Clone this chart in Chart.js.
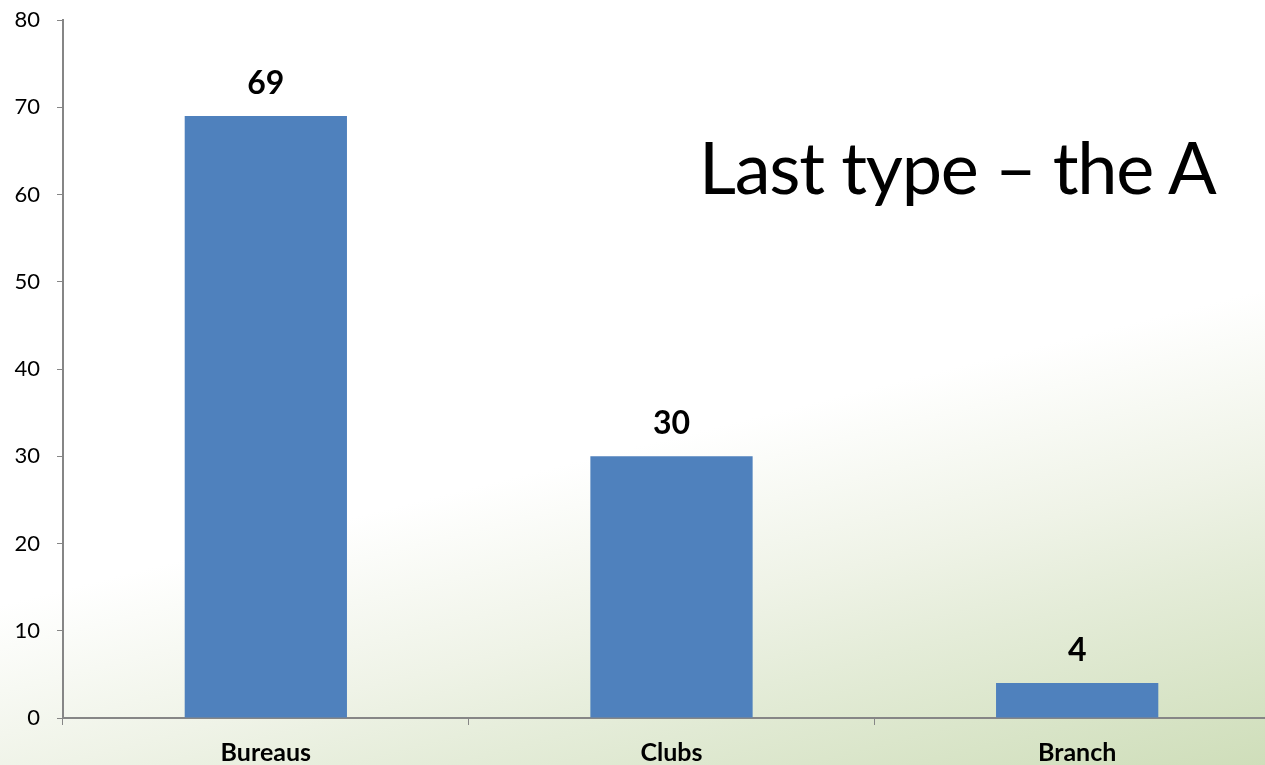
<!DOCTYPE html>
<html>
<head>
<meta charset="utf-8">
<script src="https://cdn.jsdelivr.net/npm/chart.js@4.4.0/dist/chart.umd.min.js"></script>
<style>
  html, body {
    margin: 0;
    padding: 0;
    width: 1265px;
    height: 765px;
    overflow: hidden;
  }
  body {
    position: relative;
    background: linear-gradient(166deg, #ffffff 56%, #eff3e7 72%, #e4ecd8 81%, #cfdeba 100%);
  }
  #wrap {
    position: absolute;
    left: 0;
    top: 0;
    width: 1283px;
    height: 765px;
  }
  #slideTitle {
    position: absolute;
    left: 699px;
    top: 130px;
    font-family: Lato, sans-serif;
    font-size: 72px;
    line-height: 72px;
    letter-spacing: -1.2px;
    color: #000;
    white-space: nowrap;
  }
</style>
</head>
<body>
<div id="wrap"><canvas id="resultsChart"></canvas></div>
<div id="slideTitle">Last type – the A</div>
<script>
const categories = ['Bureaus', 'Clubs', 'Branch'];
const counts = [69, 30, 4];
const yTicks = [0, 10, 20, 30, 40, 50, 60, 70, 80];

const axisGray = '#868686';

// value labels above each bar, placed from the bar elements
const barLabels = {
  id: 'barLabels',
  afterDatasetsDraw(chart) {
    const ctx = chart.ctx;
    const meta = chart.getDatasetMeta(0);
    ctx.save();
    ctx.font = 'bold 32px Lato, sans-serif';
    ctx.fillStyle = '#000';
    ctx.textAlign = 'center';
    ctx.textBaseline = 'alphabetic';
    meta.data.forEach((bar, i) => {
      ctx.fillText(String(counts[i]), bar.x, bar.y - 22);
    });
    ctx.restore();
  }
};

const chart = document.getElementById('resultsChart');
const ctx = chart.getContext('2d');
let resultsChart = new Chart(ctx, {
  type: 'bar',
  data: {
    labels: categories,
    datasets: [{
      label: 'Count',
      data: counts,
      backgroundColor: '#4f81bd',
      borderWidth: 0,
      barPercentage: 0.4,
      categoryPercentage: 1
    }]
  },
  options: {
    responsive: true,
    maintainAspectRatio: false,
    animation: false,
    layout: {
      padding: { top: 20, right: 3, left: 1, bottom: 0 }
    },
    plugins: {
      legend: { display: false },
      tooltip: { enabled: false }
    },
    scales: {
      x: {
        offset: true,
        grid: {
          offset: true,
          drawOnChartArea: false,
          drawTicks: true,
          tickLength: 7,
          color: axisGray
        },
        border: { color: axisGray, width: 2 },
        ticks: {
          color: '#000',
          padding: 13,
          font: { family: 'Lato, sans-serif', size: 25, weight: 'bold' }
        },
        afterFit(scale) {
          scale.height = 47;
          scale.paddingLeft = 0;
          scale.paddingRight = 0;
        }
      },
      y: {
        min: 0,
        max: 80,
        afterBuildTicks(scale) {
          scale.ticks = yTicks.map(v => ({ value: v }));
        },
        grid: {
          drawOnChartArea: false,
          drawTicks: true,
          tickLength: 6,
          color: axisGray
        },
        border: { color: axisGray, width: 2 },
        ticks: {
          color: '#000',
          padding: 17,
          font: { family: 'Lato, sans-serif', size: 22 }
        },
        afterFit(scale) {
          scale.width = 62;
          scale.paddingTop = 0;
          scale.paddingBottom = 0;
        }
      }
    }
  },
  plugins: [barLabels]
});
</script>
</body>
</html>
